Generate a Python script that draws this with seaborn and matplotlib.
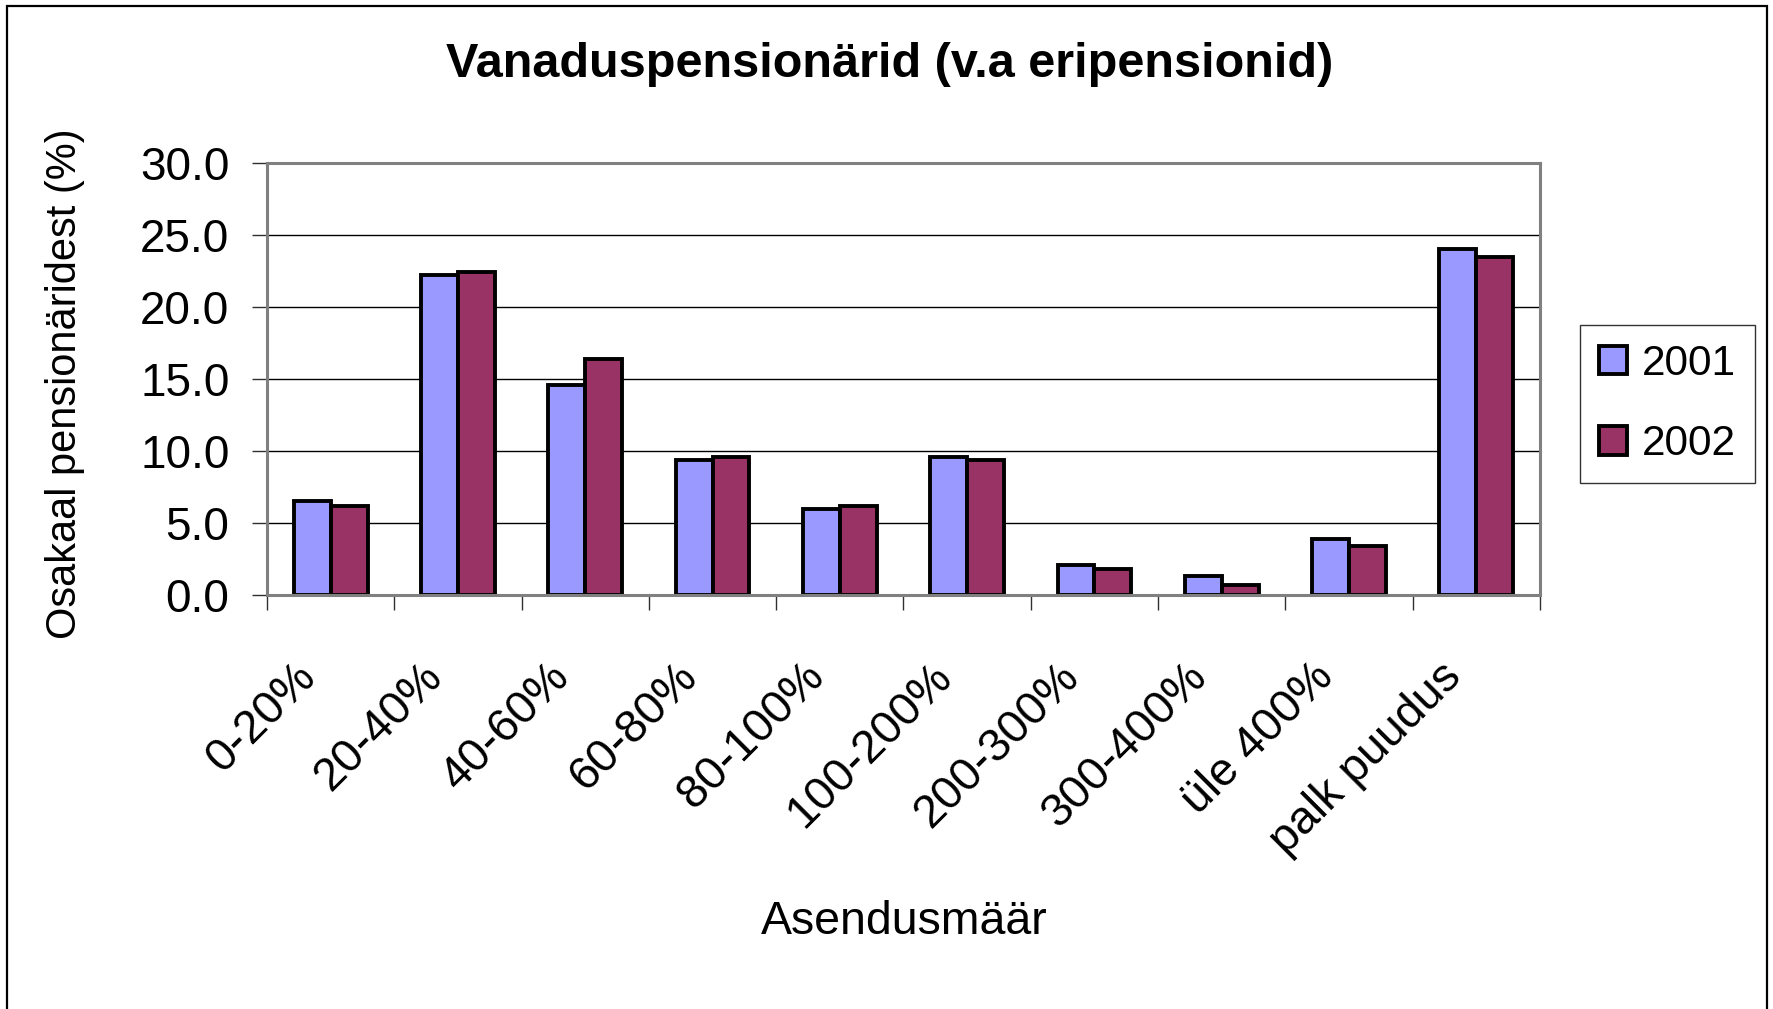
import numpy as np
import pandas as pd
import matplotlib
matplotlib.use("Agg")
import matplotlib.pyplot as plt
import matplotlib.patches as mpatches
from matplotlib.ticker import FixedLocator
from matplotlib.transforms import ScaledTranslation
import seaborn as sns

categories = ["0-20%", "20-40%", "40-60%", "60-80%", "80-100%",
              "100-200%", "200-300%", "300-400%", "üle 400%", "palk puudus"]
values_2001 = [6.5, 22.2, 14.6, 9.4, 6.0, 9.6, 2.1, 1.3, 3.9, 24.0]
values_2002 = [6.2, 22.4, 16.4, 9.6, 6.2, 9.4, 1.8, 0.7, 3.4, 23.5]
series_names = ["2001", "2002"]
colors = ["#9999FF", "#993366"]
yticks = [0, 5, 10, 15, 20, 25, 30]

title = "Vanaduspensionärid (v.a eripensionid)"
xlabel = "Asendusmäär"
ylabel = "Osakaal pensionäridest (%)"

df = pd.DataFrame({
    "kategooria": categories * 2,
    "aasta": [series_names[0]] * len(categories) + [series_names[1]] * len(categories),
    "osakaal": values_2001 + values_2002,
})

sns.set_theme(style="white")
plt.rcParams["font.family"] = ["Liberation Sans", "DejaVu Sans"]
plt.rcParams["text.color"] = "black"
plt.rcParams["axes.labelcolor"] = "black"
plt.rcParams["xtick.color"] = "black"
plt.rcParams["ytick.color"] = "black"

fig = plt.figure(figsize=(17.74, 10.09), dpi=100)
fig.patch.set_facecolor("white")
ax = fig.add_axes([267 / 1774, 1 - 595 / 1009, (1540 - 267) / 1774, (595 - 163) / 1009])

sns.barplot(data=df, x="kategooria", y="osakaal", hue="aasta", order=categories,
            hue_order=series_names, palette=colors, width=0.58, dodge=True,
            edgecolor="black", linewidth=2.8, saturation=1, errorbar=None,
            legend=True, ax=ax, zorder=3)

ax.set_ylim(0, 30)
ax.set_xlim(-0.5, len(categories) - 0.5)
ax.set_yticks(yticks)
ax.set_yticklabels([f"{v:.1f}" for v in yticks], fontsize=33, color="black")
ax.yaxis.grid(True, color="black", linewidth=1.0, zorder=0)
ax.xaxis.grid(False)
ax.set_axisbelow(True)

# category labels: rotated, end of text placed under each category
ax.set_xticks(range(len(categories)))
ax.set_xticklabels([])
label_trans = ax.get_xaxis_transform() + ScaledTranslation(-0.22, -0.75, fig.dpi_scale_trans)
for i, cat in enumerate(categories):
    ax.text(i, 0, cat, transform=label_trans, fontsize=33.5, rotation=45,
            ha="right", va="center", rotation_mode="anchor", color="black")

ax.xaxis.set_minor_locator(FixedLocator(np.arange(-0.5, len(categories), 1.0)))
ax.tick_params(axis="x", which="major", length=0)
ax.tick_params(axis="x", which="minor", bottom=True, length=11, width=1.0, color="#303030", direction="out")
ax.tick_params(axis="y", which="major", left=True, length=11, width=1.0, color="#303030",
               direction="out", pad=16)

for side in ["top", "right", "bottom", "left"]:
    ax.spines[side].set_color("#808080")
    ax.spines[side].set_linewidth(2.2)
    ax.spines[side].set_zorder(4)

ax.set_xlabel("")
ax.set_ylabel("")

fig.text(0.5017, 0.936, title, ha="center", va="center", fontsize=35,
         fontweight="bold", color="black")
fig.text(0.5096, 0.0862, xlabel, ha="center", va="center", fontsize=33.5, color="black")
fig.text(0.0364, 0.62, ylabel, ha="center", va="center", fontsize=30, rotation=90,
         color="black")

leg = ax.legend(loc="center left", bbox_to_anchor=(1580 / 1774, 1 - 404 / 1009),
                bbox_transform=fig.transFigure, fontsize=30.5, frameon=True,
                fancybox=False, shadow=False, handlelength=0.66, handleheight=0.66,
                handletextpad=0.36, borderpad=0.45, labelspacing=0.95,
                borderaxespad=0)
leg.get_frame().set_edgecolor("black")
leg.get_frame().set_linewidth(1.0)
for t in leg.get_texts():
    t.set_color("black")
for h in leg.legend_handles:
    h.set_edgecolor("black")
    h.set_linewidth(2.8)

border = mpatches.Rectangle((7 / 1774, -0.05), (1767 - 7) / 1774, 1.05 - 6 / 1009,
                            transform=fig.transFigure, fill=False,
                            edgecolor="black", linewidth=1.6, zorder=10)
fig.patches.append(border)

fig.savefig("out.png", dpi=100, facecolor="white")
